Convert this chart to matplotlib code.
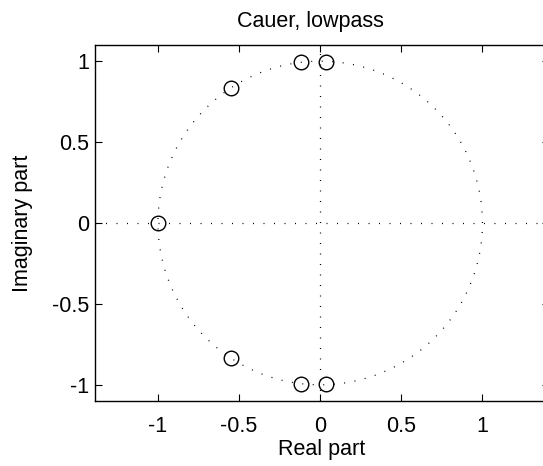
import numpy as np
import matplotlib
matplotlib.use('Agg')
import matplotlib.pyplot as plt

plt.rcParams['font.family'] = ['Liberation Sans', 'DejaVu Sans']

# zeros of the filter
zero_re = [-1.0, -0.547, -0.547, -0.12, -0.12, 0.034, 0.034]
zero_im = [0.0, 0.835, -0.835, 0.993, -0.993, 0.996, -0.996]
xticks = [-1, -0.5, 0, 0.5, 1]
yticks = [-1, -0.5, 0, 0.5, 1]
xlim = (-1.388, 1.41)
ylim = (-1.1, 1.1)

fig = plt.figure(figsize=(5.43, 4.66), dpi=100)
ax = fig.add_axes([0.175, 0.1395, 0.836, 0.7639])

dots = dict(color='black', lw=0.9, linestyle=(0, (0.8, 7.6)))
t = np.linspace(0, 2 * np.pi, 400)
ax.plot(np.cos(t), np.sin(t), **dots)
ax.plot(xlim, [0, 0], **dots)
ax.plot([0, 0], ylim, **dots)

ax.plot(zero_re, zero_im, 'o', mfc='none', mec='black', ms=10.5, mew=1.0, linestyle='none')

ax.set_xlim(xlim)
ax.set_ylim(ylim)
ax.set_xticks(xticks)
ax.set_yticks(yticks)
ax.set_xticklabels(['-1', '-0.5', '0', '0.5', '1'])
ax.set_yticklabels(['-1', '-0.5', '0', '0.5', '1'])
ax.tick_params(direction='in', top=True, right=True, length=5, labelsize=15.5, width=0.8)
ax.tick_params(axis='x', pad=11)
ax.tick_params(axis='y', pad=4)
for s in ax.spines.values():
    s.set_linewidth(1.0)

ax.set_title('Cauer, lowpass', fontsize=15.5, pad=13, x=0.4745)
ax.set_xlabel('Real part', fontsize=15.5)
ax.set_ylabel('Imaginary part', fontsize=15.5)
ax.xaxis.set_label_coords(0.5, -0.107)
ax.yaxis.set_label_coords(-0.137, 0.5)

fig.savefig('out.png', dpi=100)
